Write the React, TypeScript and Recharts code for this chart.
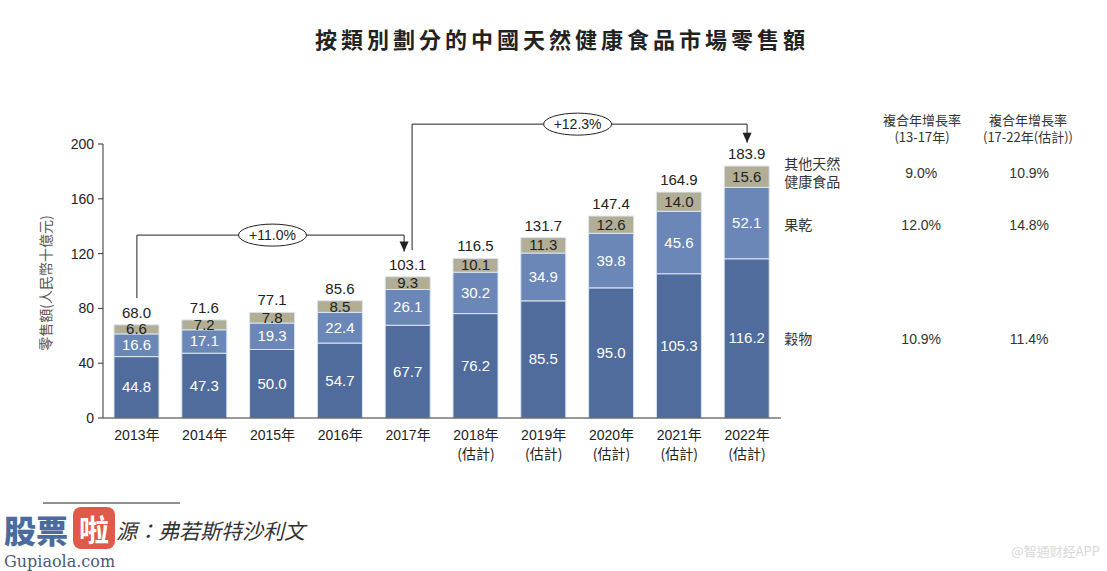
import React from 'react';
import { Bar, BarChart, LabelList, ReferenceDot, ReferenceLine, XAxis, YAxis } from 'recharts';

// 年份與各類別零售額（人民幣十億元）
const years = ['2013年', '2014年', '2015年', '2016年', '2017年', '2018年', '2019年', '2020年', '2021年', '2022年'];
const estimated = [false, false, false, false, false, true, true, true, true, true];
const grains = [44.8, 47.3, 50.0, 54.7, 67.7, 76.2, 85.5, 95.0, 105.3, 116.2];
const driedFruit = [16.6, 17.1, 19.3, 22.4, 26.1, 30.2, 34.9, 39.8, 45.6, 52.1];
const otherFoods = [6.6, 7.2, 7.8, 8.5, 9.3, 10.1, 11.3, 12.6, 14.0, 15.6];
const totals = [68.0, 71.6, 77.1, 85.6, 103.1, 116.5, 131.7, 147.4, 164.9, 183.9];
const yTicks = [0, 40, 80, 120, 160, 200];

// 右側圖例與複合年增長率
const otherName = ['其他天然', '健康食品'];
const fruitName = ['果乾'];
const grainName = ['穀物'];
const cagrEarly = { other: '9.0%', fruit: '12.0%', grain: '10.9%' };
const cagrLate = { other: '10.9%', fruit: '14.8%', grain: '11.4%' };
const cagrHeaders = [
  ['複合年增長率', '(13-17年)'],
  ['複合年增長率', '(17-22年(估計))'],
];

// 總體增長箭頭
const brackets = [
  { label: '+11.0%', from: '2013年', to: '2017年', level: 133.5, start: 87.5, end: 121.5, fromShift: 0, toShift: -4 },
  { label: '+12.3%', from: '2017年', to: '2022年', level: 214.5, start: 122.5, end: 201, fromShift: 4, toShift: 0 },
];

const chartData = years.map((year, i) => ({
  year,
  grains: grains[i],
  driedFruit: driedFruit[i],
  otherFoods: otherFoods[i],
}));

const NUM_FONT = '"Liberation Sans", Arial, "Noto Sans CJK TC", sans-serif';
const CJK_FONT = '"Noto Sans CJK TC", "Liberation Sans", sans-serif';
const LAST = years.length - 1;
const LEGEND_X = 15;
const COL1_X = 152;
const COL2_X = 260;

function XTick(props: any) {
  const { x, y, payload, index } = props;
  return (
    <g>
      <text x={x} y={y + 14} textAnchor="middle" fontSize={14} fill="#222" fontFamily={NUM_FONT}>
        {payload.value}
      </text>
      {estimated[index] && (
        <text x={x} y={y + 33} textAnchor="middle" fontSize={14} fill="#222" fontFamily={CJK_FONT}>
          (估計)
        </text>
      )}
    </g>
  );
}

function sideText(x: number, cy: number, names: string[], early: string, late: string) {
  const lh = 18;
  const top = cy - ((names.length - 1) * lh) / 2;
  return (
    <g>
      {names.map((n, k) => (
        <text key={n} x={x + LEGEND_X} y={top + k * lh + 5} fontSize={14} fill="#333" fontFamily={CJK_FONT}>
          {n}
        </text>
      ))}
      <text x={x + COL1_X} y={cy + 5} textAnchor="middle" fontSize={14} fill="#333" fontFamily={NUM_FONT}>
        {early}
      </text>
      <text x={x + COL2_X} y={cy + 5} textAnchor="middle" fontSize={14} fill="#333" fontFamily={NUM_FONT}>
        {late}
      </text>
    </g>
  );
}

function grainLabel(props: any) {
  const { x, y, width, height, value, index } = props;
  return (
    <g>
      <text x={x + width / 2} y={y + height / 2 + 5} textAnchor="middle" fontSize={15} fill="#fff" fontFamily={NUM_FONT}>
        {Number(value).toFixed(1)}
      </text>
      {index === LAST && sideText(x + width, y + height / 2 + 1, grainName, cagrEarly.grain, cagrLate.grain)}
    </g>
  );
}

function fruitLabel(props: any) {
  const { x, y, width, height, value, index } = props;
  return (
    <g>
      <text x={x + width / 2} y={y + height / 2 + 5} textAnchor="middle" fontSize={15} fill="#fff" fontFamily={NUM_FONT}>
        {Number(value).toFixed(1)}
      </text>
      {index === LAST && sideText(x + width, y + height / 2 + 2, fruitName, cagrEarly.fruit, cagrLate.fruit)}
    </g>
  );
}

function otherLabel(props: any) {
  const { x, y, width, height, value, index } = props;
  return (
    <g>
      <text x={x + width / 2} y={y + height / 2 + 5} textAnchor="middle" fontSize={15} fill="#222" fontFamily={NUM_FONT}>
        {Number(value).toFixed(1)}
      </text>
      <text x={x + width / 2} y={y - 7} textAnchor="middle" fontSize={15} fill="#222" fontFamily={NUM_FONT}>
        {totals[index].toFixed(1)}
      </text>
      {index === LAST && sideText(x + width, y + height / 2 - 4, otherName, cagrEarly.other, cagrLate.other)}
    </g>
  );
}

function segmentShape(dx1: number, dx2: number) {
  return (p: any) => (
    <line x1={p.x1 + dx1} y1={p.y1} x2={p.x2 + dx2} y2={p.y2} stroke="#222" strokeWidth={1} />
  );
}

function arrowShape(dx: number) {
  return (p: any) => (
    <path d={`M${p.cx + dx - 4.5},${p.cy - 10} L${p.cx + dx + 4.5},${p.cy - 10} L${p.cx + dx},${p.cy} Z`} fill="#222" />
  );
}

function ovalLabel(text: string) {
  return (p: any) => {
    const vb = p.viewBox || {};
    const cx = vb.x + (vb.width || 0) / 2;
    const cy = vb.y + (vb.height || 0) / 2;
    return (
      <g>
        <ellipse cx={cx} cy={cy} rx={34} ry={11} fill="#fff" stroke="#222" strokeWidth={1} />
        <text x={cx} y={cy + 5} textAnchor="middle" fontSize={14} fill="#222" fontFamily={NUM_FONT}>
          {text}
        </text>
      </g>
    );
  };
}

export default function App() {
  return (
    <div style={{ position: 'absolute', left: 0, top: 0, width: 1107, height: 571, background: '#fff' }}>
      <BarChart
        width={1107}
        height={571}
        data={chartData}
        margin={{ top: 144, right: 326, bottom: 103, left: 63 }}
        barSize={45}
      >
        <XAxis
          dataKey="year"
          interval={0}
          tickLine={false}
          height={50}
          axisLine={{ stroke: '#333' }}
          tick={<XTick />}
        />
        <YAxis
          domain={[0, 200]}
          ticks={yTicks}
          width={40}
          tickSize={5}
          tickMargin={4}
          axisLine={{ stroke: '#333' }}
          tickLine={{ stroke: '#333' }}
          tick={{ fontSize: 14, fill: '#222', fontFamily: NUM_FONT }}
        />
        <Bar dataKey="grains" stackId="a" fill="#4f6c9c" stroke="#dbe5f2" strokeWidth={1} isAnimationActive={false}>
          <LabelList dataKey="grains" content={grainLabel} />
        </Bar>
        <Bar dataKey="driedFruit" stackId="a" fill="#6a87b7" stroke="#dbe5f2" strokeWidth={1} isAnimationActive={false}>
          <LabelList dataKey="driedFruit" content={fruitLabel} />
        </Bar>
        <Bar dataKey="otherFoods" stackId="a" fill="#b2ae95" stroke="#dbe5f2" strokeWidth={1} isAnimationActive={false}>
          <LabelList dataKey="otherFoods" content={otherLabel} />
        </Bar>
        {brackets.map((b) => (
          <ReferenceLine
            key={b.label + 'v1'}
            segment={[{ x: b.from, y: b.start }, { x: b.from, y: b.level }]}
            ifOverflow="visible"
            shape={segmentShape(b.fromShift, b.fromShift)}
          />
        ))}
        {brackets.map((b) => (
          <ReferenceLine
            key={b.label + 'h'}
            segment={[{ x: b.from, y: b.level }, { x: b.to, y: b.level }]}
            ifOverflow="visible"
            shape={segmentShape(b.fromShift, b.toShift)}
            label={ovalLabel(b.label)}
          />
        ))}
        {brackets.map((b) => (
          <ReferenceLine
            key={b.label + 'v2'}
            segment={[{ x: b.to, y: b.level }, { x: b.to, y: b.end }]}
            ifOverflow="visible"
            shape={segmentShape(b.toShift, b.toShift)}
          />
        ))}
        {brackets.map((b) => (
          <ReferenceDot key={b.label + 'a'} x={b.to} y={b.end} ifOverflow="visible" shape={arrowShape(b.toShift)} />
        ))}
      </BarChart>

      <svg width={1107} height={571} style={{ position: 'absolute', left: 0, top: 0, pointerEvents: 'none' }}>
        <text x={562} y={48} textAnchor="middle" fontSize={22} fontWeight={700} letterSpacing={4} fill="#222" fontFamily={CJK_FONT}>
          按類別劃分的中國天然健康食品市場零售額
        </text>
        <text
          transform="translate(51,283) rotate(-90)"
          textAnchor="middle"
          fontSize={14}
          fill="#555"
          fontFamily={CJK_FONT}
        >
          零售額(人民幣十億元)
        </text>
        {cagrHeaders.map((h, i) => (
          <g key={i}>
            <text x={i === 0 ? 922 : 1028} y={125} textAnchor="middle" fontSize={13} fill="#333" fontFamily={CJK_FONT}>
              {h[0]}
            </text>
            <text x={i === 0 ? 922 : 1028} y={142} textAnchor="middle" fontSize={13} fill="#333" fontFamily={CJK_FONT}>
              {h[1]}
            </text>
          </g>
        ))}
        <line x1={43} y1={503} x2={180} y2={503} stroke="#222" strokeWidth={1} />
        <text x={116} y={539} fontSize={21} fontStyle="italic" fill="#333" fontFamily={CJK_FONT}>
          源：弗若斯特沙利文
        </text>
        <text x={4} y={543} fontSize={32} fontWeight={900} fill="#4a6b9e" fontFamily={CJK_FONT}>
          股票
        </text>
        <rect x={73} y={507} width={42} height={42} rx={8} fill="#e05a4a" />
        <text x={94} y={541} textAnchor="middle" fontSize={30} fontWeight={700} fill="#fff" fontFamily={CJK_FONT}>
          啦
        </text>
        <text x={4} y={567} fontSize={16} fill="#4a5a78" fontFamily='"DejaVu Serif", serif'>
          Gupiaola.com
        </text>
        <text x={1100} y={556} textAnchor="end" fontSize={13} fill="#d8d8d8" fontFamily={CJK_FONT}>
          @智通财经APP
        </text>
      </svg>
    </div>
  );
}
